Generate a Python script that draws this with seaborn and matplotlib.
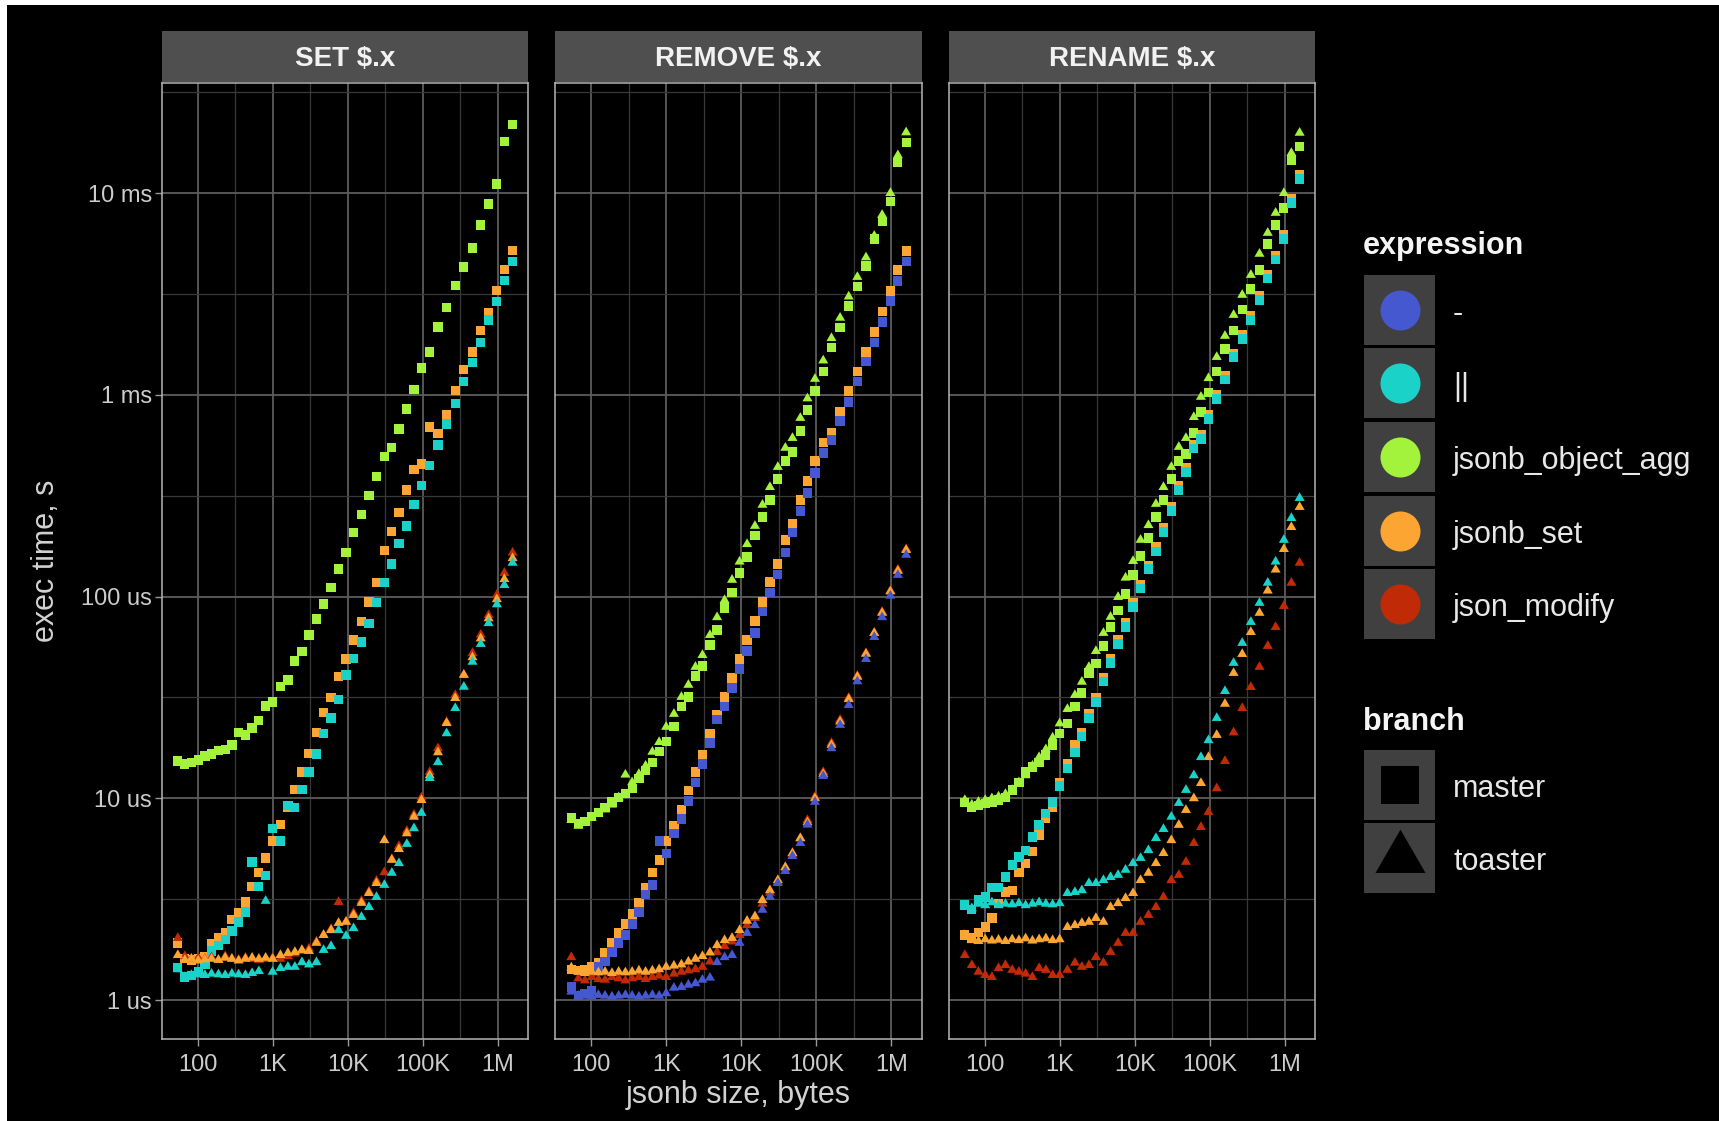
import matplotlib
matplotlib.use("Agg")
import matplotlib.pyplot as plt
import seaborn as sns
import pandas as pd
from matplotlib.patches import Rectangle
from matplotlib.ticker import FixedLocator, NullFormatter

sns.set_theme(style="dark")
plt.rcParams["font.family"] = ["Liberation Sans", "DejaVu Sans"]

# ---------------- data (exec time in microseconds) ----------------
sizes = [54, 67, 82, 101, 124, 152, 188, 231, 284, 349,
         430, 528, 650, 800, 991, 1259, 1585, 1963, 2438, 3020,
         3802, 4732, 5957, 7499, 9441, 11885, 15136, 19055, 23988, 30549,
         38459, 47863, 60954, 75858, 95499, 123027, 158489, 206538, 269153, 350752,
         457088, 588844, 749894, 966051, 1216186, 1566751]

operations = ["SET $.x", "REMOVE $.x", "RENAME $.x"]
expressions = ["-", "||", "jsonb_object_agg", "jsonb_set", "json_modify"]
branches = ["master", "toaster"]
palette = {"-": "#4558D0", "||": "#1BD2C8", "jsonb_object_agg": "#A3F23B",
           "jsonb_set": "#FCA532", "json_modify": "#C12A06"}

# SET $.x
set_agg_master = [15.3, 14.8, 15.0, 15.5, 16.2, 16.6, 17.2, 17.5, 18.4, 21.2,
                  20.6, 22.3, 24.4, 28.7, 30.0, 35.7, 38.6, 47.9, 53.6, 64.5,
                  77.5, 92.0, 111, 137, 166, 207, 256, 318, 394, 493,
                  547, 677, 851, 1060, 1360, 1632, 2172, 2700, 3470, 4300,
                  5350, 6950, 8840, 11100, 18100, 21800]
set_concat_master = [1.45, 1.30, 1.32, 1.38, 1.50, 1.75, 1.87, 2.00, 2.20, 2.44,
                     2.73, 4.84, 3.67, 4.16, 7.10, 6.15, 9.20, 9.00, 11.1, 13.5,
                     16.6, 21.0, 25.0, 31.0, 40.9, 49.4, 59.5, 73.8, 93.9, 117,
                     145, 184, 224, 287, 357, 445, 565, 717, 908, 1170,
                     1450, 1820, 2350, 2900, 3700, 4570]
set_jset_master = [1.92, 1.60, 1.58, 1.60, 1.65, 1.90, 2.03, 2.17, 2.50, 2.70,
                   3.06, 3.67, 4.30, 5.06, 6.15, 7.40, 9.00, 11.1, 13.5, 16.7,
                   21.2, 26.6, 31.6, 40.3, 49.0, 61.0, 75.5, 94.0, 117, 170,
                   211, 260, 338, 428, 454, 693, 646, 800, 1050, 1340,
                   1630, 2080, 2560, 3300, 4170, 5200]
set_concat_toaster = [1.42, 1.30, 1.33, 1.34, 1.33, 1.35, 1.34, 1.33, 1.35, 1.34,
                      1.33, 1.36, 1.39, 3.10, 1.38, 1.44, 1.46, 1.46, 1.54, 1.50,
                      1.54, 1.77, 1.85, 2.22, 2.08, 2.27, 2.58, 2.89, 3.24, 3.72,
                      4.27, 4.77, 5.94, 7.10, 8.46, 12.6, 15.1, 21.0, 28.0, 35.7,
                      47.5, 58.2, 73.8, 91.5, 114, 147]
set_jset_toaster = [1.67, 1.58, 1.60, 1.57, 1.59, 1.60, 1.58, 1.62, 1.60, 1.57,
                    1.60, 1.62, 1.60, 1.62, 1.60, 1.67, 1.71, 1.73, 1.77, 1.75,
                    1.92, 2.10, 2.22, 2.41, 2.44, 2.64, 3.03, 3.39, 3.80, 6.20,
                    4.95, 5.60, 6.70, 8.10, 9.80, 13.0, 16.9, 23.6, 31.4, 40.9,
                    50.0, 62.0, 78.0, 97.0, 122, 155]
set_jmod_toaster = [2.03, 1.65, 1.60, 1.62, 1.60, 1.63, 1.58, 1.65, 1.60, 1.58,
                    1.62, 1.60, 1.58, 1.60, 1.62, 1.60, 1.65, 1.70, 1.75, 1.80,
                    1.95, 2.10, 2.25, 3.06, 2.45, 2.70, 3.10, 3.45, 3.90, 4.30,
                    5.00, 5.80, 6.90, 8.30, 10.1, 13.5, 17.7, 23.9, 32.5, 41.0,
                    52.5, 64.7, 81.0, 102, 131, 165]

# REMOVE $.x
rem_agg_master = [8.0, 7.5, 7.7, 8.1, 8.5, 9.0, 9.6, 10.1, 10.6, 11.2,
                  12.5, 13.8, 15.1, 17.0, 19.2, 22.8, 28.4, 31.8, 40.4, 45.3,
                  57.5, 68.3, 87.7, 105, 131, 157, 200, 248, 301, 383,
                  470, 521, 662, 841, 1045, 1300, 1710, 2150, 2760, 3430,
                  4350, 5930, 7230, 9080, 14200, 17900]
rem_agg_toaster = [7.8, 7.3, 7.6, 8.0, 8.4, 8.8, 9.3, 10.1, 13.1, 12.0,
                   13.2, 14.5, 17.0, 19.0, 22.6, 26.2, 31.8, 36.5, 44.8, 51.3,
                   64.5, 79.0, 96.0, 121, 149, 182, 224, 285, 349, 439,
                   546, 611, 768, 960, 1200, 1480, 1910, 2410, 3070, 3840,
                   4800, 6140, 7800, 10000, 15400, 20000]
rem_jset_master = [1.42, 1.40, 1.42, 1.46, 1.54, 1.71, 1.92, 2.15, 2.38, 2.67,
                   3.03, 3.63, 4.30, 4.95, 6.15, 7.30, 8.84, 10.9, 13.5, 16.4,
                   21.0, 25.9, 31.8, 39.5, 49.1, 60.9, 75.7, 94.0, 118, 145,
                   191, 229, 301, 374, 470, 583, 647, 822, 1045, 1310,
                   1630, 2050, 2580, 3270, 4160, 5170]
rem_minus_master = [1.16, 1.05, 1.08, 1.12, 1.46, 1.56, 1.73, 1.92, 2.10, 2.38,
                    2.73, 3.35, 3.72, 6.15, 5.35, 6.70, 7.90, 9.70, 12.0, 14.8,
                    18.8, 24.5, 28.4, 35.2, 43.8, 53.7, 66.0, 84.0, 105, 129,
                    166, 207, 266, 326, 410, 515, 597, 742, 922, 1170,
                    1460, 1810, 2300, 2920, 3670, 4570]
rem_minus_toaster = [1.10, 1.05, 1.05, 1.04, 1.06, 1.05, 1.04, 1.05, 1.06, 1.05,
                     1.04, 1.05, 1.06, 1.05, 1.08, 1.15, 1.16, 1.19, 1.21, 1.26,
                     1.29, 1.54, 1.63, 1.67, 1.92, 2.15, 2.35, 2.80, 3.24, 3.80,
                     4.36, 5.17, 6.00, 7.40, 9.60, 12.9, 17.7, 23.1, 29.0, 38.0,
                     49.0, 63.0, 79.0, 101, 128, 161]
rem_jset_toaster = [1.45, 1.38, 1.36, 1.38, 1.37, 1.38, 1.36, 1.38, 1.37, 1.38,
                    1.40, 1.38, 1.40, 1.42, 1.46, 1.48, 1.50, 1.55, 1.60, 1.65,
                    1.72, 1.87, 1.98, 2.03, 2.22, 2.47, 2.60, 3.13, 3.50, 3.93,
                    4.56, 5.35, 6.35, 7.60, 10.0, 13.2, 18.4, 24.0, 31.0, 40.0,
                    52.0, 66.0, 83.0, 106, 134, 170]
rem_jmod_toaster = [1.63, 1.28, 1.25, 1.30, 1.27, 1.26, 1.30, 1.28, 1.25, 1.28,
                    1.30, 1.27, 1.30, 1.32, 1.30, 1.35, 1.38, 1.40, 1.42, 1.46,
                    1.55, 1.73, 1.85, 1.95, 2.10, 2.35, 2.55, 3.00, 3.40, 3.85,
                    4.50, 5.30, 6.30, 7.80, 10.2, 13.5, 18.8, 24.5, 31.5, 40.5,
                    52.5, 66.0, 84.0, 107, 136, 172]

# RENAME $.x
ren_agg_master = [9.5, 9.0, 9.2, 9.4, 9.6, 9.8, 10.1, 11.0, 12.0, 13.5,
                  14.3, 15.1, 16.4, 18.4, 21.0, 23.6, 28.4, 33.3, 41.8, 46.4,
                  56.9, 70.6, 85.0, 103, 128, 159, 195, 248, 301, 383,
                  470, 509, 647, 822, 1030, 1300, 1690, 2080, 2640, 3350,
                  4160, 5600, 6950, 8450, 14600, 17100]
ren_agg_toaster = [9.8, 9.3, 9.6, 9.8, 10.0, 10.2, 10.5, 11.0, 12.0, 13.0,
                   14.5, 16.0, 17.5, 20.0, 23.5, 27.7, 32.5, 37.8, 44.8, 53.7,
                   66.0, 79.3, 99.5, 124, 150, 191, 226, 288, 349, 439,
                   552, 611, 776, 977, 1210, 1540, 1960, 2490, 3130, 3930,
                   5000, 6350, 7980, 10000, 15800, 19900]
ren_concat_master = [2.96, 2.80, 3.13, 3.24, 3.60, 3.63, 4.07, 4.67, 5.12, 5.53,
                     6.43, 7.38, 8.40, 9.60, 11.5, 14.1, 16.8, 20.2, 25.0, 30.0,
                     37.8, 46.9, 58.2, 70.6, 88.8, 110, 137, 168, 209, 266,
                     338, 415, 540, 604, 760, 955, 1190, 1540, 1890, 2350,
                     2950, 3760, 4670, 5930, 8940, 11750]
ren_jset_master = [2.10, 2.03, 2.17, 2.30, 2.55, 3.02, 3.43, 3.50, 4.27, 4.77,
                   5.43, 6.58, 7.97, 9.05, 12.0, 14.8, 18.4, 21.2, 26.4, 31.5,
                   39.7, 49.0, 61.0, 74.0, 93.0, 115, 143, 176, 219, 278,
                   353, 434, 564, 632, 795, 1000, 1245, 1610, 1980, 2460,
                   3090, 3940, 4890, 6210, 9360, 12300]
ren_concat_toaster = [2.90, 2.85, 3.00, 2.95, 3.05, 2.95, 3.00, 2.98, 3.02, 2.95,
                      3.00, 3.05, 3.00, 2.98, 3.02, 3.39, 3.43, 3.50, 3.80, 3.80,
                      3.93, 4.07, 4.17, 4.42, 4.77, 5.06, 5.53, 6.35, 7.04, 8.10,
                      9.48, 11.0, 13.0, 16.0, 19.4, 25.0, 34.0, 46.9, 58.9, 74.8,
                      93.0, 117, 149, 191, 245, 308]
ren_jset_toaster = [2.10, 1.98, 1.96, 2.00, 1.97, 1.99, 1.96, 2.00, 1.98, 2.02,
                    1.97, 2.00, 2.02, 1.98, 2.00, 2.30, 2.35, 2.41, 2.44, 2.55,
                    2.44, 2.89, 3.02, 3.20, 3.39, 3.93, 4.27, 4.77, 5.35, 6.20,
                    7.38, 8.75, 10.0, 11.9, 16.0, 20.6, 29.4, 41.8, 51.9, 66.7,
                    83.0, 107, 136, 172, 221, 278]
ren_jmod_toaster = [1.67, 1.49, 1.38, 1.33, 1.30, 1.44, 1.49, 1.41, 1.38, 1.35,
                    1.30, 1.44, 1.41, 1.33, 1.33, 1.41, 1.53, 1.46, 1.49, 1.63,
                    1.53, 1.73, 1.92, 2.15, 2.15, 2.44, 2.64, 2.89, 3.24, 3.93,
                    4.17, 4.84, 6.00, 7.20, 8.55, 11.2, 15.3, 21.2, 28.0, 35.6,
                    44.8, 56.9, 70.6, 89.8, 117, 147]

# (operation, expression, branch, values) in drawing order
series = [
    ("SET $.x", "jsonb_set", "master", set_jset_master),
    ("SET $.x", "jsonb_object_agg", "master", set_agg_master),
    ("SET $.x", "||", "master", set_concat_master),
    ("SET $.x", "json_modify", "toaster", set_jmod_toaster),
    ("SET $.x", "jsonb_set", "toaster", set_jset_toaster),
    ("SET $.x", "||", "toaster", set_concat_toaster),
    ("REMOVE $.x", "jsonb_set", "master", rem_jset_master),
    ("REMOVE $.x", "jsonb_object_agg", "master", rem_agg_master),
    ("REMOVE $.x", "-", "master", rem_minus_master),
    ("REMOVE $.x", "json_modify", "toaster", rem_jmod_toaster),
    ("REMOVE $.x", "jsonb_set", "toaster", rem_jset_toaster),
    ("REMOVE $.x", "jsonb_object_agg", "toaster", rem_agg_toaster),
    ("REMOVE $.x", "-", "toaster", rem_minus_toaster),
    ("RENAME $.x", "jsonb_set", "master", ren_jset_master),
    ("RENAME $.x", "jsonb_object_agg", "master", ren_agg_master),
    ("RENAME $.x", "||", "master", ren_concat_master),
    ("RENAME $.x", "json_modify", "toaster", ren_jmod_toaster),
    ("RENAME $.x", "jsonb_set", "toaster", ren_jset_toaster),
    ("RENAME $.x", "jsonb_object_agg", "toaster", ren_agg_toaster),
    ("RENAME $.x", "||", "toaster", ren_concat_toaster),
]

rows = []
for op, expr, br, vals in series:
    for s, v in zip(sizes, vals):
        rows.append((op, expr, br, s, v))
df = pd.DataFrame(rows, columns=["operation", "expression", "branch", "size", "time_us"])

# ---------------- layout ----------------
W, H = 1719, 1121
fig = plt.figure(figsize=(W / 100, H / 100), dpi=100, facecolor="black")


def frect(x0, y0, x1, y1):
    return [x0 / W, 1 - y1 / H, (x1 - x0) / W, (y1 - y0) / H]


tri = [(-1.0, -0.577), (1.0, -0.577), (0.0, 1.155)]
branch_style = {"master": ("s", 44), "toaster": (tri, 70)}

xticks = [1e2, 1e3, 1e4, 1e5, 1e6]
xlabels = ["100", "1K", "10K", "100K", "1M"]
yticks = [1, 10, 100, 1000, 10000]
ylabels = ["1 us", "10 us", "100 us", "1 ms", "10 ms"]
xminor = [10 ** (e + 0.5) for e in range(1, 7)]
yminor = [10 ** (e + 0.5) for e in range(-1, 5)]

panel_x = [161.5, 555.0, 948.5]
pw = 366.5
for i, op in enumerate(operations):
    x0 = panel_x[i]
    ax = fig.add_axes(frect(x0, 83, x0 + pw, 1039))
    ax.set_facecolor("black")
    sub = df[df["operation"] == op]
    for br in branches:
        d = sub[sub["branch"] == br]
        mk, sz = branch_style[br]
        sns.scatterplot(data=d, x="size", y="time_us", hue="expression",
                        palette=palette, marker=mk, s=sz, linewidth=0,
                        ax=ax, legend=False, zorder=3)
    ax.set_xscale("log")
    ax.set_yscale("log")
    ax.set_xlim(10 ** 1.515, 10 ** 6.4)
    ax.set_ylim(10 ** -0.193, 10 ** 4.546)
    ax.xaxis.set_major_locator(FixedLocator(xticks))
    ax.xaxis.set_minor_locator(FixedLocator(xminor))
    ax.xaxis.set_minor_formatter(NullFormatter())
    ax.set_xticklabels(xlabels)
    ax.yaxis.set_major_locator(FixedLocator(yticks))
    ax.yaxis.set_minor_locator(FixedLocator(yminor))
    ax.yaxis.set_minor_formatter(NullFormatter())
    ax.set_yticklabels(ylabels)
    ax.grid(True, which="major", color="#5c5c5c", linewidth=1.3)
    ax.grid(True, which="minor", color="#383838", linewidth=0.9)
    ax.set_axisbelow(True)
    ax.tick_params(which="minor", length=0)
    ax.tick_params(which="major", length=5, width=1.0, color="#9a9a9a",
                   labelcolor="#cccccc", labelsize=17)
    ax.tick_params(axis="x", pad=6)
    ax.tick_params(axis="y", pad=2)
    ax.tick_params(bottom=True, left=True)
    if i > 0:
        ax.tick_params(axis="y", left=False, labelleft=False)
    for sp in ax.spines.values():
        sp.set_color("#b5b5b5")
        sp.set_linewidth(1.1)
    ax.set_xlabel("")
    ax.set_ylabel("")

    # facet strip
    fig.patches.append(Rectangle((x0 / W, 1 - 81.5 / H), pw / W, 50.5 / H,
                                 transform=fig.transFigure, facecolor="#4f4f4f",
                                 edgecolor="none"))
    fig.text((x0 + pw / 2) / W, 1 - 59 / H, op, ha="center", va="center",
             fontsize=20, fontweight="bold", color="#f2f2f2")

# axis titles
fig.text(46 / W, 1 - 561 / H, "exec time, s", rotation=90, ha="center",
         va="center", fontsize=22, color="#d2d2d2")
fig.text(738 / W, 1 - 1095 / H, "jsonb size, bytes", ha="center",
         va="center", fontsize=22, color="#d2d2d2")

# screenshot margin
fig.patches.append(Rectangle((0, 1 - 5 / H), 1, 5 / H, transform=fig.transFigure,
                             facecolor="white", edgecolor="none"))
fig.patches.append(Rectangle((0, 0), 7 / W, 1, transform=fig.transFigure,
                             facecolor="white", edgecolor="none"))

# ---------------- legend ----------------
lax = fig.add_axes([0, 0, 1, 1])
lax.set_xlim(0, W)
lax.set_ylim(H, 0)
lax.axis("off")
key_bg = "#404040"
lax.text(1363, 246, "expression", ha="left", va="center", fontsize=22,
         fontweight="bold", color="#f5f5f5")
for j, expr in enumerate(expressions):
    y0 = 274.7 + 73.6 * j
    lax.add_patch(Rectangle((1364.3, y0), 70.7, 70, facecolor=key_bg, edgecolor="none"))
    lax.scatter([1399.6], [y0 + 35], s=830, color=palette[expr], linewidth=0)
    lax.text(1453, y0 + 39, expr, ha="left", va="center", fontsize=22, color="#e8e8e8")

lax.text(1363, 722, "branch", ha="left", va="center", fontsize=22,
         fontweight="bold", color="#f5f5f5")
for j, br in enumerate(branches):
    y0 = 750 + 73.3 * j
    lax.add_patch(Rectangle((1364.3, y0), 70.7, 70, facecolor=key_bg, edgecolor="none"))
    if br == "master":
        lax.scatter([1399.6], [y0 + 35], s=750, marker="s", color="black", linewidth=0)
    else:
        lax.scatter([1399.6], [y0 + 35], s=1730, marker=tri, color="black", linewidth=0)
    lax.text(1453, y0 + 39, br, ha="left", va="center", fontsize=22, color="#e8e8e8")

fig.savefig("out.png", dpi=100, facecolor="black")
